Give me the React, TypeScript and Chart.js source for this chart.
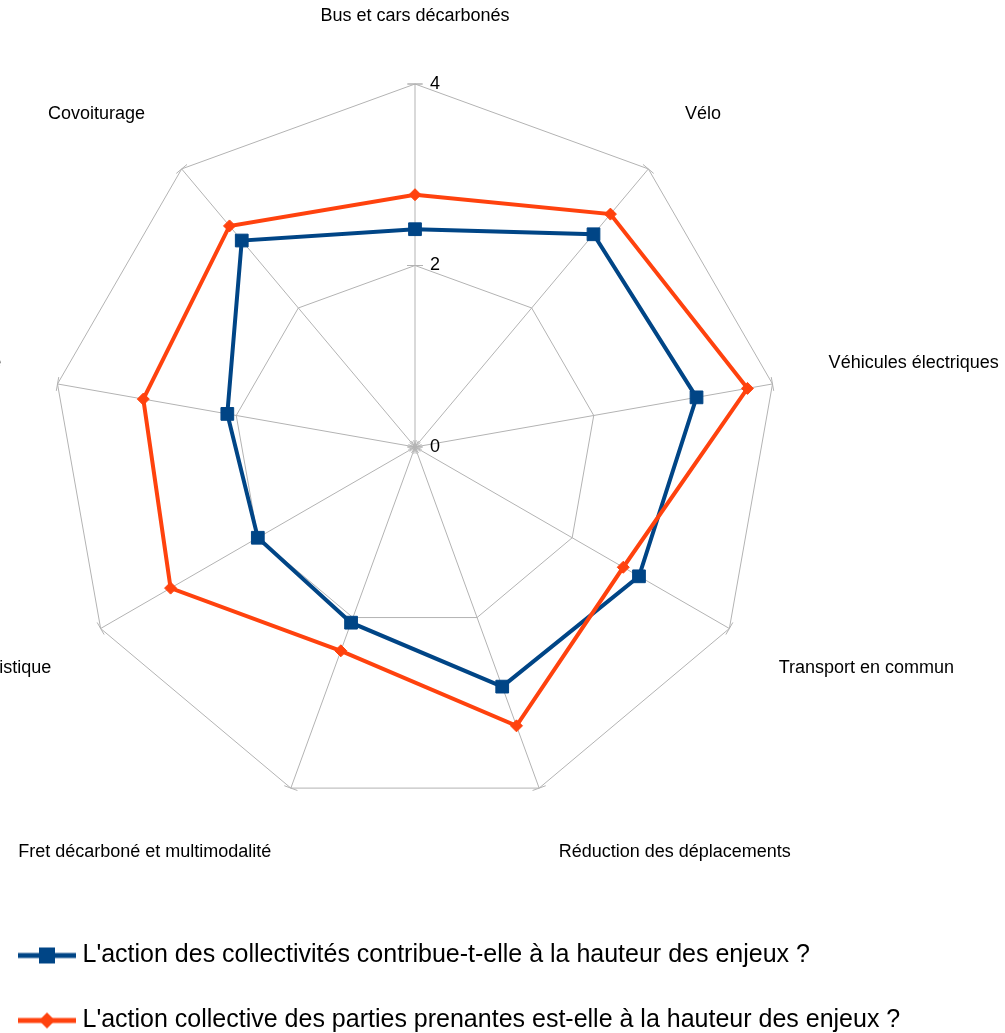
import React, { useEffect, useRef } from 'react';
import { Chart, registerables } from 'chart.js';

Chart.register(...registerables);

const CATEGORIES = [
  'Bus et cars décarbonés',
  'Vélo',
  'Véhicules électriques',
  'Transport en commun',
  'Réduction des déplacements',
  'Fret décarboné et multimodalité',
  'Logistique',
  'Autopartage',
  'Covoiturage',
];
const COLLECTIVITES = [2.4, 3.06, 3.15, 2.85, 2.81, 2.06, 2.0, 2.1, 2.97];
const PARTIES_PRENANTES = [2.78, 3.35, 3.72, 2.65, 3.27, 2.39, 3.11, 3.04, 3.18];
const SERIES_NAMES = [
  "L'action des collectivités contribue-t-elle à la hauteur des enjeux ?",
  "L'action collective des parties prenantes est-elle à la hauteur des enjeux ?",
];
const TICK_VALUES = [0, 2, 4];
const TICK_LABELS = ['0', '2', '4'];

const BLUE = '#004586';
const ORANGE = '#ff420e';
const GRID = '#b3b3b3';
const FONT = "'Liberation Sans', Arial, sans-serif";

const CANVAS_W = 1025;
const CANVAS_H = 1043;
const CANVAS_LEFT = -20;
const CANVAS_TOP = 0;
const CENTER_X = 435;
const CENTER_Y = 447;
const RADIUS = 363;

function makeMarker(color: string, shape: 'rect' | 'diamond') {
  const c = document.createElement('canvas');
  c.width = 62;
  c.height = 18;
  const ctx = c.getContext('2d')!;
  ctx.strokeStyle = color;
  ctx.lineWidth = 5;
  ctx.beginPath();
  ctx.moveTo(4, 9);
  ctx.lineTo(62, 9);
  ctx.stroke();
  ctx.fillStyle = color;
  const mx = 33;
  if (shape === 'rect') {
    ctx.fillRect(mx - 8, 1, 16, 16);
  } else {
    ctx.beginPath();
    ctx.moveTo(mx, 1);
    ctx.lineTo(mx + 8, 9);
    ctx.lineTo(mx, 17);
    ctx.lineTo(mx - 8, 9);
    ctx.closePath();
    ctx.fill();
  }
  return c;
}

const axisDecor = {
  id: 'axisDecor',
  beforeDatasetsDraw(chart: any) {
    const s = chart.scales.r;
    const ctx = chart.ctx;
    ctx.save();
    ctx.strokeStyle = GRID;
    ctx.lineWidth = 1;
    s.ticks.forEach((t: any) => {
      const p = s.getPointPositionForValue(0, t.value);
      ctx.beginPath();
      ctx.moveTo(p.x - 8, p.y);
      ctx.lineTo(p.x + 8, p.y);
      ctx.stroke();
    });
    const n = chart.data.labels.length;
    for (let i = 0; i < n; i++) {
      const a = s.getIndexAngle(i) - Math.PI / 2;
      const px = -Math.sin(a);
      const py = Math.cos(a);
      [s.min, s.max].forEach((v: number) => {
        const p = s.getPointPositionForValue(i, v);
        ctx.beginPath();
        ctx.moveTo(p.x - px * 7, p.y - py * 7);
        ctx.lineTo(p.x + px * 7, p.y + py * 7);
        ctx.stroke();
      });
    }
    ctx.fillStyle = '#000';
    ctx.font = `18px ${FONT}`;
    ctx.textAlign = 'left';
    ctx.textBaseline = 'middle';
    s.ticks.forEach((t: any, k: number) => {
      const p = s.getPointPositionForValue(0, t.value);
      ctx.fillText(TICK_LABELS[k], p.x + 15, p.y);
    });
    ctx.restore();
  },
};

export default function App() {
  const ref = useRef<HTMLCanvasElement>(null);
  useEffect(() => {
    if (!ref.current) return;
    Chart.defaults.font.family = FONT;
    const markers = [makeMarker(BLUE, 'rect'), makeMarker(ORANGE, 'diamond')];
    const chart = new Chart(ref.current, {
      type: 'radar',
      data: {
        labels: CATEGORIES,
        datasets: [
          {
            label: SERIES_NAMES[0],
            data: COLLECTIVITES,
            borderColor: BLUE,
            backgroundColor: BLUE,
            borderWidth: 4,
            fill: false,
            pointStyle: 'rect',
            pointRadius: 9,
            pointBorderWidth: 1,
            pointBackgroundColor: BLUE,
            pointBorderColor: BLUE,
            order: 1,
          },
          {
            label: SERIES_NAMES[1],
            data: PARTIES_PRENANTES,
            borderColor: ORANGE,
            backgroundColor: ORANGE,
            borderWidth: 4,
            fill: false,
            pointStyle: 'rectRot',
            pointRadius: 6,
            pointBorderWidth: 1,
            pointBackgroundColor: ORANGE,
            pointBorderColor: ORANGE,
            order: 0,
          },
        ],
      },
      options: {
        responsive: false,
        animation: false,
        layout: { padding: 0 },
        elements: { line: { tension: 0 } },
        scales: {
          r: {
            min: 0,
            max: 4,
            ticks: { display: false, stepSize: 2 },
            afterBuildTicks: (s: any) => {
              s.ticks = TICK_VALUES.map((v) => ({ value: v }));
            },
            grid: { circular: false, color: GRID, lineWidth: 1 },
            angleLines: { color: GRID, lineWidth: 1 },
            pointLabels: {
              font: { family: FONT, size: 18 },
              color: '#000',
              padding: 57,
            },
            beforeFit: (s: any) => {
              s.setCenterPoint = function () {
                this.xCenter = CENTER_X;
                this.yCenter = CENTER_Y;
                this.drawingArea = RADIUS;
              };
            },
          } as any,
        },
        plugins: {
          tooltip: { enabled: false },
          legend: {
            position: 'bottom',
            align: 'start',
            labels: {
              usePointStyle: true,
              pointStyleWidth: 50,
              padding: 40,
              color: '#000',
              font: { family: FONT, size: 25 },
              sort: (a: any, b: any) => a.datasetIndex - b.datasetIndex,
              generateLabels: (c: any) =>
                (Chart.defaults.plugins.legend.labels.generateLabels as any)(c).map((it: any) => ({
                  ...it,
                  pointStyle: markers[it.datasetIndex],
                })),
            },
          },
        },
      } as any,
      plugins: [axisDecor],
    });
    return () => chart.destroy();
  }, []);
  return (
    <canvas
      ref={ref}
      width={CANVAS_W}
      height={CANVAS_H}
      style={{ position: 'fixed', left: CANVAS_LEFT, top: CANVAS_TOP, width: CANVAS_W, height: CANVAS_H }}
    />
  );
}
